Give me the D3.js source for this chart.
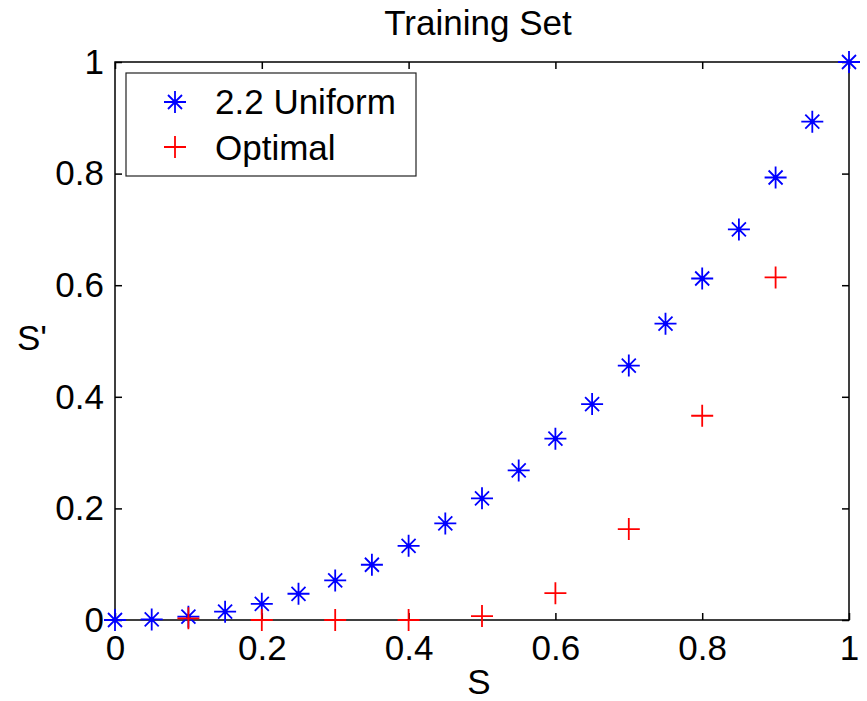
<!DOCTYPE html>
<html>
<head>
<meta charset="utf-8">
<script src="https://cdn.jsdelivr.net/npm/d3@7"></script>
<style>
  html, body { margin: 0; padding: 0; background: #fff; }
  svg { display: block; }
  text { font-family: "Liberation Sans", Arial, Helvetica, sans-serif; fill: #000; }
</style>
</head>
<body>
<svg id="chart" width="867" height="701"></svg>
<script>
// Input level S and the resulting output level S' for each mapping
const uniformS = [0, 0.05, 0.1, 0.15, 0.2, 0.25, 0.3, 0.35, 0.4, 0.45, 0.5,
                  0.55, 0.6, 0.65, 0.7, 0.75, 0.8, 0.85, 0.9, 0.95, 1];
const uniformValues = [0, 0.001, 0.006, 0.015, 0.029, 0.047, 0.071, 0.099, 0.133, 0.173, 0.218,
                       0.268, 0.325, 0.387, 0.456, 0.531, 0.612, 0.700, 0.793, 0.893, 1];
const optimalS = [0.1, 0.2, 0.3, 0.4, 0.5, 0.6, 0.7, 0.8, 0.9];
const optimalValues = [0.003, 0, 0, 0, 0.007, 0.048, 0.163, 0.366, 0.614];
const xTicks = [0, 0.2, 0.4, 0.6, 0.8, 1];
const yTicks = [0, 0.2, 0.4, 0.6, 0.8, 1];
const seriesNames = ["2.2 Uniform", "Optimal"];
const seriesColors = ["#0000ff", "#ff0000"];

(function () {
const svg = d3.select("#chart");
const plotLeft = 115, plotRight = 849, plotTop = 62, plotBottom = 620;
const fontSize = 35;

const x = d3.scaleLinear().domain([0, 1]).range([plotLeft, plotRight]);
const y = d3.scaleLinear().domain([0, 1]).range([plotBottom, plotTop]);
const fmt = d => d === 0 ? "0" : d === 1 ? "1" : d3.format(".1f")(d);

// Axes with inward ticks on all four sides
const tickLen = 7;
const axisBottom = d3.axisBottom(x).tickValues(xTicks).tickSizeInner(-tickLen).tickSizeOuter(0).tickFormat(fmt).tickPadding(15);
const axisTop = d3.axisTop(x).tickValues(xTicks).tickSizeInner(-tickLen).tickSizeOuter(0).tickFormat("");
const axisLeft = d3.axisLeft(y).tickValues(yTicks).tickSizeInner(-tickLen).tickSizeOuter(0).tickFormat(fmt).tickPadding(11);
const axisRight = d3.axisRight(y).tickValues(yTicks).tickSizeInner(-tickLen).tickSizeOuter(0).tickFormat("");

function styleAxis(g) {
  g.attr("font-family", null).attr("font-size", null);
  g.select(".domain").remove();
  g.selectAll(".tick line").attr("stroke", "#000").attr("stroke-width", 1.5);
  g.selectAll(".tick text").style("font-size", fontSize + "px").attr("fill", "#000");
}

svg.append("g").attr("transform", `translate(0,${plotBottom})`).call(axisBottom).call(styleAxis);
svg.append("g").attr("transform", `translate(0,${plotTop})`).call(axisTop).call(styleAxis);
svg.append("g").attr("transform", `translate(${plotLeft},0)`).call(axisLeft).call(styleAxis);
svg.append("g").attr("transform", `translate(${plotRight},0)`).call(axisRight).call(styleAxis);

// Box around the plotting area
svg.append("rect")
  .attr("x", plotLeft).attr("y", plotTop)
  .attr("width", plotRight - plotLeft).attr("height", plotBottom - plotTop)
  .attr("fill", "none").attr("stroke", "#000").attr("stroke-width", 1.5);

// Title and axis labels
svg.append("text").attr("x", (plotLeft + plotRight) / 2 - 4).attr("y", 35)
  .attr("text-anchor", "middle").style("font-size", fontSize + "px").text("Training Set");
svg.append("text").attr("x", (plotLeft + plotRight) / 2 - 3).attr("y", 694)
  .attr("text-anchor", "middle").style("font-size", fontSize + "px").text("S");
svg.append("text").attr("x", 17).attr("y", 350)
  .attr("text-anchor", "start").style("font-size", fontSize + "px").text("S'");

// Marker drawers
function drawStar(g, cx, cy, color) {
  const r = 11, d = 7;
  const p = `M${cx - r},${cy}H${cx + r}M${cx},${cy - r}V${cy + r}` +
            `M${cx - d},${cy - d}L${cx + d},${cy + d}M${cx - d},${cy + d}L${cx + d},${cy - d}`;
  g.append("path").attr("d", p).attr("stroke", color).attr("stroke-width", 1.8).attr("fill", "none");
  g.append("circle").attr("cx", cx).attr("cy", cy).attr("r", 2.4).attr("fill", color);
}
function drawPlus(g, cx, cy, color) {
  const r = 11;
  g.append("path").attr("d", `M${cx - r},${cy}H${cx + r}M${cx},${cy - r}V${cy + r}`)
    .attr("stroke", color).attr("stroke-width", 1.8).attr("fill", "none");
}

const marks = svg.append("g");
uniformS.forEach((s, i) => drawStar(marks, x(s), y(uniformValues[i]), seriesColors[0]));
optimalS.forEach((s, i) => drawPlus(marks, x(s), y(optimalValues[i]), seriesColors[1]));

// Legend
const legend = svg.append("g");
legend.append("rect").attr("x", 126).attr("y", 73).attr("width", 290).attr("height", 103)
  .attr("fill", "#fff").attr("stroke", "#222").attr("stroke-width", 1.2);
drawStar(legend, 175, 102, seriesColors[0]);
drawPlus(legend, 175, 147, seriesColors[1]);
legend.append("text").attr("x", 215).attr("y", 114).style("font-size", fontSize + "px").text(seriesNames[0]);
legend.append("text").attr("x", 215).attr("y", 160).style("font-size", fontSize + "px").text(seriesNames[1]);
})();
</script>
</body>
</html>
